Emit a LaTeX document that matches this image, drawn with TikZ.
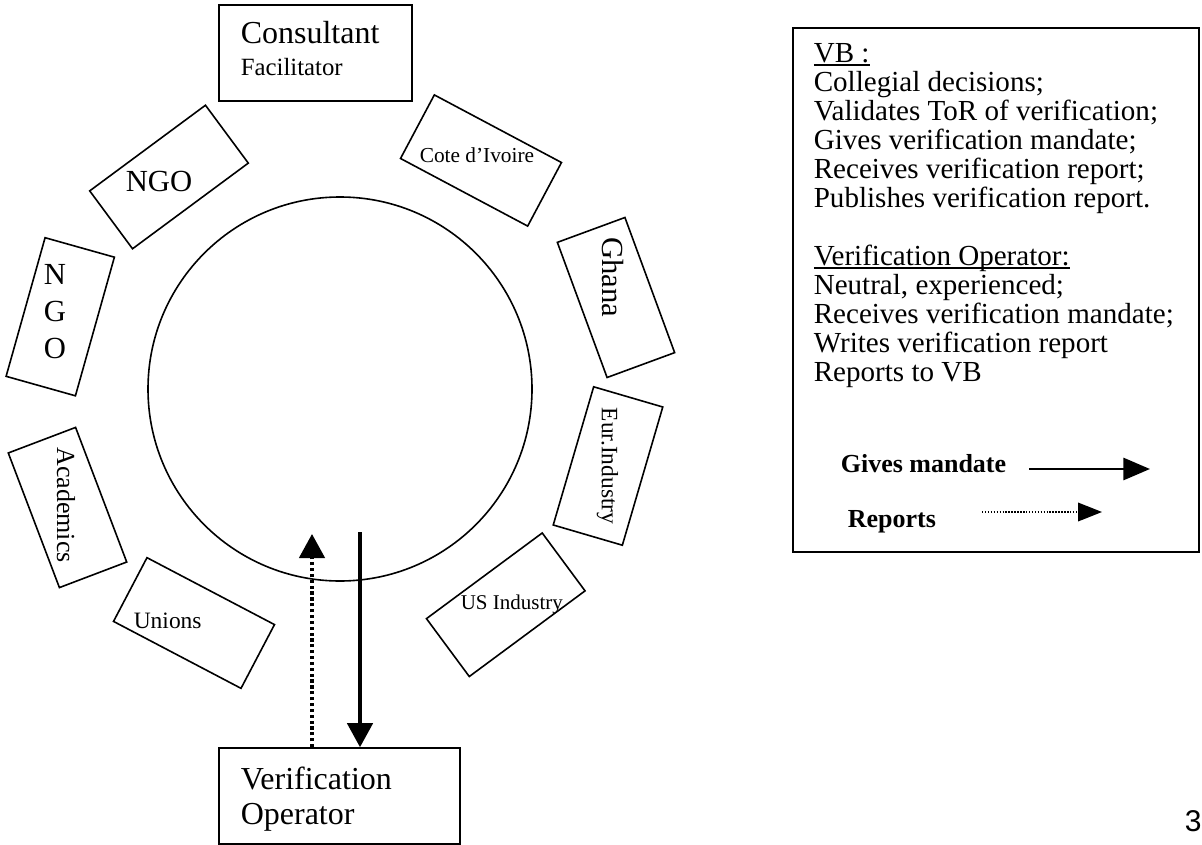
\documentclass[tikz,border=0pt]{standalone}
\usepackage{fontspec}
\setmainfont{Liberation Serif}
\newfontfamily\pagefont{Liberation Sans}
\usetikzlibrary{arrows.meta}
\newcommand\lineunder[1]{\setbox0\hbox{#1}\rlap{\rule[-2.4pt]{\wd0}{0.9pt}}\box0}

\begin{document}
\begin{tikzpicture}[x=0.75pt,y=-0.75pt,>={Triangle[width=19pt,length=18pt]},line width=1.2pt]
      \tikzstyle{widebox}=[draw,minimum width=108pt,minimum height=54pt,inner sep=0pt]
      \tikzstyle{tallbox}=[draw,minimum width=54pt,minimum height=108pt,inner sep=0pt]
      \tikzstyle{plain}=[inner sep=0pt,anchor=base west]
      \tikzstyle{upright}=[inner sep=0pt,rotate=-90]

      \useasboundingbox (0,0) rectangle (1202,845);

      % the ring of members
      \node[draw,circle,minimum size=288pt,inner sep=0pt] (ring) at (340,389) {};

      \node[draw,minimum width=144.75pt,minimum height=72pt] (cons) at (315.5,53) {};
      \node[plain,font=\fontsize{24}{26}\selectfont]   (cons-a) at (240,44) {Consultant};
      \node[plain,font=\fontsize{18.6}{20}\selectfont] (cons-b) at (240,76) {Facilitator};

      \node[widebox,rotate=36.5]  (ngo)  at (169,177)      {};
      \node[tallbox,rotate=-15.7] (ngo2) at (60.25,316.75) {};
      \node[tallbox,rotate=20.8]  (aca)  at (67.5,507.5)   {};
      \node[widebox,rotate=-27.7] (uni)  at (194,623)      {};
      \node[widebox,rotate=36.5]  (usi)  at (505.75,604.75) {};
      \node[tallbox,rotate=-16.3] (eur)  at (608,466)      {};
      \node[tallbox,rotate=20.2]  (gha)  at (616,297.5)    {};
      \node[widebox,rotate=-28]   (civ)  at (481,160.5)    {};

      \node[plain,font=\fontsize{23}{25}\selectfont]       (ngo-l)  at (125,191) {NGO};
      \node[inner sep=0pt,align=center,font=\fontsize{23}{27.75}\selectfont] (ngo2-l) at (55,312) {N\\G\\O};
      \node[upright,font=\fontsize{19.5}{21}\selectfont]   (aca-l)  at (66,505)  {Academics};
      \node[plain,font=\fontsize{17.6}{19}\selectfont]     (uni-l)  at (133,628) {Unions};
      \node[plain,font=\fontsize{15.75}{17}\selectfont]    (usi-l)  at (460,609) {US Industry};
      \node[upright,font=\fontsize{17.6}{19}\selectfont]   (eur-l)  at (607.5,466) {Eur.Industry};
      \node[upright,font=\fontsize{23}{25}\selectfont]     (gha-l)  at (612.5,277.5) {Ghana};
      \node[plain,font=\fontsize{16}{18}\selectfont]       (civ-l)  at (419,163) {Cote d’Ivoire};

      \node[draw,minimum width=180.75pt,minimum height=72pt] (vo) at (339.5,796) {};
      \node[plain,font=\fontsize{24}{26}\selectfont] (vo-a) at (240,789) {Verification};
      \node[plain,font=\fontsize{24}{26}\selectfont] (vo-b) at (240,824) {Operator};

      % mandate down, report up
      \coordinate (mandate) at (360,532);
      \coordinate (report)  at (312,534);
      \draw[->,line width=2.6pt] (mandate) -- (mandate |- vo.north);
      \draw[->,line width=2.6pt,dash pattern=on 2.4pt off 2pt] (report |- vo.north) -- (report);

      % roles and legend
      \node[draw,minimum width=304.5pt,minimum height=393pt] (key) at (996,290) {};
      \node[inner sep=0pt,anchor=north west,align=left,font=\fontsize{21.8}{21.75}\selectfont] (roles) at (813,42.5)
        {\lineunder{VB :}\\
         Collegial decisions;\\
         Validates ToR of verification;\\
         Gives verification mandate;\\
         Receives verification report;\\
         Publishes verification report.\\[21.75pt]
         \lineunder{Verification Operator:}\\
         Neutral, experienced;\\
         Receives verification mandate;\\
         Writes verification report\\
         Reports to VB};

      \node[plain,font=\bfseries\fontsize{19.5}{21}\selectfont] (give-l) at (840,472) {Gives mandate};
      \node[plain,font=\bfseries\fontsize{19.5}{21}\selectfont] (rep-l)  at (847,527) {Reports};
      \coordinate (give-a) at (1029,469);
      \coordinate (give-b) at (1150,469);
      \coordinate (rep-a)  at (982,512);
      \coordinate (rep-b)  at (1102,512);
      \draw[-{Triangle[width=16.5pt,length=20pt]},line width=2.2pt] (give-a) -- (give-b);
      \draw[-{Triangle[width=14pt,length=18pt]},line width=1.1pt,dash pattern=on 1.1pt off 1.1pt] (rep-a) -- (rep-b);

      \node[plain,font=\pagefont\fontsize{22.5}{24}\selectfont] (pg) at (1184,831) {3};
\end{tikzpicture}
\end{document}
